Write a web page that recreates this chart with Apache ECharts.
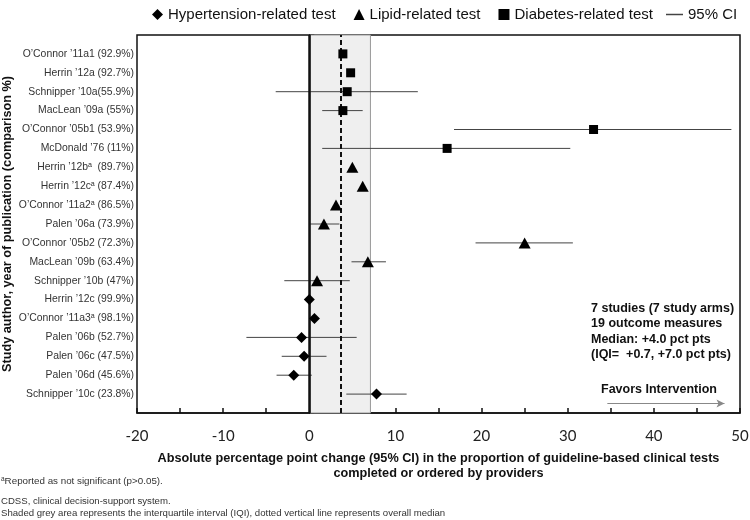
<!DOCTYPE html>
<html>
<head>
<meta charset="utf-8">
<script src="https://cdn.jsdelivr.net/npm/echarts@6/dist/echarts.min.js"></script>
<style>
  html, body { margin: 0; background: #fff; }
  #chart { width: 750px; height: 520px; }
</style>
</head>
<body>
<div id="chart"></div>
<script>
// rows top to bottom
const studies = [
  "O’Connor ’11a1 (92.9%)",
  "Herrin ’12a (92.7%)",
  "Schnipper ’10a(55.9%)",
  "MacLean ’09a (55%)",
  "O’Connor ’05b1 (53.9%)",
  "McDonald ’76 (11%)",
  "Herrin ’12bᵃ  (89.7%)",
  "Herrin ’12cᵃ (87.4%)",
  "O’Connor ’11a2ᵃ (86.5%)",
  "Palen ’06a (73.9%)",
  "O’Connor ’05b2 (72.3%)",
  "MacLean ’09b (63.4%)",
  "Schnipper ’10b (47%)",
  "Herrin ’12c (99.9%)",
  "O’Connor ’11a3ᵃ (98.1%)",
  "Palen ’06b (52.7%)",
  "Palen ’06c (47.5%)",
  "Palen ’06d (45.6%)",
  "Schnipper ’10c (23.8%)"
];
const testType = ["D", "D", "D", "D", "D", "D", "L", "L", "L", "L", "L", "L", "L", "H", "H", "H", "H", "H", "H"];
const effect = [3.9, 4.8, 4.4, 3.9, 33, 16, 5.0, 6.2, 3.1, 1.7, 25, 6.8, 0.9, 0.0, 0.6, -0.9, -0.6, -1.8, 7.8];
const ciLow  = [null, null, -3.9, 1.5, 16.8, 1.5, null, null, null, 0.0, 19.3, 4.9, -2.9, null, null, -7.3, -3.2, -3.8, 4.3];
const ciHigh = [null, null, 12.6, 6.2, 49, 30.3, null, null, null, 3.5, 30.6, 8.9, 4.7, null, null, 5.5, 2.0, 0.3, 11.3];

const median = 3.7;
const iqr = [0.1, 7.1];
const xTicks = [-20, -10, 0, 10, 20, 30, 40, 50];

const n = studies.length;
const rowOf = (i) => n - i;

function pointsFor(t) {
  const out = [];
  effect.forEach((v, i) => { if (testType[i] === t) out.push([v, rowOf(i)]); });
  return out;
}
const ciData = [];
effect.forEach((v, i) => {
  if (ciLow[i] !== null) ciData.push([ciLow[i], ciHigh[i], rowOf(i)]);
});

const myChart = echarts.init(document.getElementById("chart"));

const legendText = { fontFamily: "Liberation Sans", fontSize: 15, color: "#111" };

const option = {
  animation: false,
  legend: [
    {
      data: ["Hypertension-related test", "Lipid-related test", "Diabetes-related test"],
      left: 147,
      top: 2,
      itemWidth: 11,
      itemHeight: 11,
      itemGap: 18,
      textStyle: legendText
    },
    {
      data: ["95% CI"],
      left: 661,
      top: 2,
      icon: "rect",
      itemWidth: 17,
      itemHeight: 1.5,
      textStyle: legendText
    }
  ],
  grid: {
    left: 137,
    right: 10,
    top: 35,
    bottom: 107,
    containLabel: false,
    outerBoundsMode: "none",
    show: true,
    borderColor: "#111",
    borderWidth: 1.5
  },
  xAxis: {
    type: "value",
    min: -20,
    max: 50,
    interval: 5,
    name: "Absolute percentage point change (95% CI) in the proportion of guideline-based clinical tests\ncompleted or ordered by providers",
    nameLocation: "middle",
    nameGap: 38,
    nameMoveOverlap: false,
    nameTextStyle: { fontFamily: "Liberation Sans", fontWeight: "bold", fontSize: 12.7, lineHeight: 15, color: "#111" },
    axisLine: { lineStyle: { color: "#111", width: 1.5 } },
    axisTick: { inside: true, length: 5, lineStyle: { color: "#111", width: 1.5 } },
    axisLabel: {
      margin: 16,
      fontFamily: "Lato",
      fontSize: 15,
      color: "#222",
      formatter: (v) => (xTicks.includes(v) ? String(v) : "")
    },
    splitLine: { show: false }
  },
  yAxis: {
    type: "value",
    min: 0,
    max: n + 1,
    interval: 1,
    name: "Study author, year of publication (comparison %)",
    nameLocation: "middle",
    nameGap: 123,
    nameMoveOverlap: false,
    nameTextStyle: { fontFamily: "Liberation Sans", fontWeight: "bold", fontSize: 12.7, color: "#111" },
    axisLine: { lineStyle: { color: "#111", width: 1.5 } },
    axisTick: { inside: true, length: 5, lineStyle: { color: "#111", width: 1.5 } },
    axisLabel: {
      margin: 3,
      fontFamily: "Liberation Sans",
      fontSize: 10.4,
      color: "#333",
      formatter: (v) => studies[n - v] || ""
    },
    splitLine: { show: false }
  },
  graphic: [
    {
      type: "text",
      left: 591,
      top: 301,
      style: {
        text: "7 studies (7 study arms)\n19 outcome measures\nMedian: +4.0 pct pts\n(IQI=  +0.7, +7.0 pct pts)",
        font: "bold 12.5px Liberation Sans",
        lineHeight: 15.3,
        fill: "#111"
      }
    },
    {
      type: "text",
      left: 601,
      top: 383,
      style: { text: "Favors Intervention", font: "bold 12.5px Liberation Sans", fill: "#111" }
    },
    {
      type: "text",
      left: 1,
      top: 476,
      style: {
        text: "{sup|a}Reported as not significant (p>0.05).",
        font: "9.8px Liberation Sans",
        fill: "#333",
        rich: { sup: { fontSize: 6.5, verticalAlign: "top", fill: "#333" } }
      }
    },
    {
      type: "text",
      left: 1,
      top: 496,
      style: {
        text: "CDSS, clinical decision-support system.\nShaded grey area represents the interquartile interval (IQI), dotted vertical line represents overall median",
        font: "9.6px Liberation Sans",
        lineHeight: 11.5,
        fill: "#333"
      }
    }
  ],
  series: [
    {
      name: "95% CI",
      type: "custom",
      encode: { x: [0, 1], y: 2 },
      data: ciData,
      itemStyle: { color: "#444" },
      z: 3,
      renderItem: (params, api) => {
        const a = api.coord([api.value(0), api.value(2)]);
        const b = api.coord([api.value(1), api.value(2)]);
        return {
          type: "line",
          shape: { x1: a[0], y1: a[1], x2: b[0], y2: b[1] },
          style: { stroke: "#444", lineWidth: 1 }
        };
      },
      markArea: {
        silent: true,
        itemStyle: { color: "#efefef", borderColor: "#999", borderWidth: 1 },
        data: [[{ xAxis: iqr[0] }, { xAxis: iqr[1] }]]
      },
      markLine: {
        silent: true,
        symbol: ["none", "none"],
        label: { show: false },
        data: [
          { xAxis: 0, lineStyle: { color: "#111", width: 2.5, type: "solid" } },
          { xAxis: median, lineStyle: { color: "#111", width: 2, type: [5, 3] } },
          [
            { coord: [34.6, 0.5], symbol: "none", lineStyle: { color: "#888", width: 1, type: "solid" } },
            { coord: [48.2, 0.5], symbol: "arrow", symbolSize: [6, 8] }
          ]
        ]
      }
    },
    {
      name: "Hypertension-related test",
      type: "scatter",
      symbol: "diamond",
      symbolSize: [11, 11],
      itemStyle: { color: "#000", opacity: 1 },
      data: pointsFor("H"),
      z: 5
    },
    {
      name: "Lipid-related test",
      type: "scatter",
      symbol: "triangle",
      symbolSize: [12, 11],
      itemStyle: { color: "#000", opacity: 1 },
      data: pointsFor("L"),
      z: 5
    },
    {
      name: "Diabetes-related test",
      type: "scatter",
      symbol: "rect",
      symbolSize: 9,
      itemStyle: { color: "#000", opacity: 1 },
      data: pointsFor("D"),
      z: 5
    }
  ]
};

option && myChart.setOption(option);
</script>
</body>
</html>
